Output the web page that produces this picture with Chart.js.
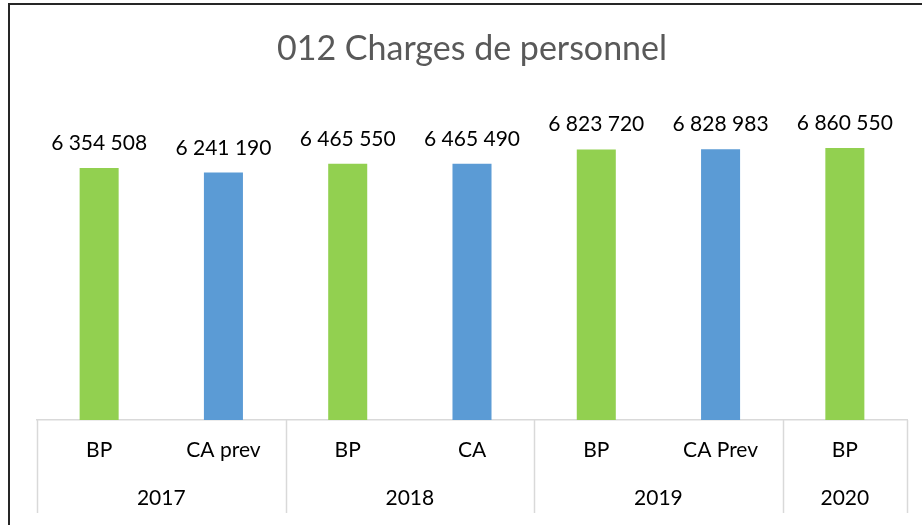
<!DOCTYPE html>
<html>
<head>
<meta charset="utf-8">
<script src="https://cdn.jsdelivr.net/npm/chart.js@4.4.1/dist/chart.umd.min.js"></script>
<style>
    html, body { margin: 0; padding: 0; background: #fff; overflow: hidden; }
    #frame { position: absolute; left: 8px; top: 3px; width: 1000px; height: 1000px; border: 2px solid #262626; }
    #chart { position: absolute; left: 0; top: 0; }
</style>
</head>
<body>
<div id="frame"></div>
<canvas id="chart" width="922" height="525"></canvas>
<script>
const categories = ["BP", "CA prev", "BP", "CA", "BP", "CA Prev", "BP"];
const years = ["2017", "2017", "2018", "2018", "2019", "2019", "2020"];
const values = [6354508, 6241190, 6465550, 6465490, 6823720, 6828983, 6860550];
const yTicks = [0, 8000000];

const palette = {
    green: "#92d050",
    blue: "#5b9bd5",
    title: "#595959",
    text: "#000000",
    line: "#d9d9d9",
};
const barColors = categories.map((c) => (c === "BP" ? palette.green : palette.blue));
const fontFamily = "Lato, 'Noto Sans', sans-serif";

function formatValue(v) {
    return String(v).replace(/\B(?=(\d{3})+(?!\d))/g, " ");
}

// value labels above bars + the year row of the category table
const tablePlugin = {
    id: "tablePlugin",
    afterDraw(chart) {
        const ctx = chart.ctx;
        const x = chart.scales.x;
        const meta = chart.getDatasetMeta(0);

        ctx.save();
        ctx.font = "21px " + fontFamily;
        ctx.fillStyle = palette.text;
        ctx.textAlign = "center";
        ctx.textBaseline = "alphabetic";
        meta.data.forEach((bar, i) => {
            ctx.fillText(formatValue(values[i]), bar.x, bar.y - 18);
        });

        // group boundaries
        const edge = (i) => {
            if (i <= 0) return x.left;
            if (i >= categories.length) return x.right;
            return (x.getPixelForTick(i - 1) + x.getPixelForTick(i)) / 2;
        };
        const groups = [];
        years.forEach((y, i) => {
            const g = groups[groups.length - 1];
            if (g && g.label === y) g.to = i;
            else groups.push({ label: y, from: i, to: i });
        });

        ctx.strokeStyle = palette.line;
        ctx.lineWidth = 1.5;
        const top = x.top;
        const bottom = top + 93;
        const bounds = [0].concat(groups.map((g) => g.to + 1));
        bounds.forEach((b) => {
            const px = Math.round(edge(b)) + 0.5;
            ctx.beginPath();
            ctx.moveTo(px, top);
            ctx.lineTo(px, bottom);
            ctx.stroke();
        });

        ctx.textBaseline = "middle";
        groups.forEach((g) => {
            const cx = (edge(g.from) + edge(g.to + 1)) / 2;
            ctx.fillText(g.label, cx, top + 78);
        });
        ctx.restore();
    },
};

new Chart(document.getElementById("chart").getContext("2d"), {
    type: "bar",
    data: {
        labels: categories,
        datasets: [
            {
                data: values,
                backgroundColor: barColors,
                borderWidth: 0,
                barPercentage: 0.314,
                categoryPercentage: 1,
            },
        ],
    },
    options: {
        responsive: false,
        animation: false,
        devicePixelRatio: 1,
        layout: {
            padding: { left: 37, right: 15, top: 0, bottom: 0 },
        },
        plugins: {
            legend: { display: false },
            tooltip: { enabled: false },
            title: {
                display: true,
                text: "012 Charges de personnel",
                color: palette.title,
                font: { family: fontFamily, size: 34, weight: "normal" },
                padding: { top: 29, bottom: 33 },
            },
        },
        scales: {
            x: {
                grid: { display: false, drawTicks: false },
                border: { color: palette.line, width: 1.5 },
                ticks: {
                    color: palette.text,
                    font: { family: fontFamily, size: 21 },
                    padding: 18,
                    autoSkip: false,
                    maxRotation: 0,
                },
                afterFit(scale) {
                    scale.height = 105;
                },
            },
            y: {
                display: false,
                min: yTicks[0],
                max: yTicks[1],
            },
        },
    },
    plugins: [tablePlugin],
});
</script>
</body>
</html>
